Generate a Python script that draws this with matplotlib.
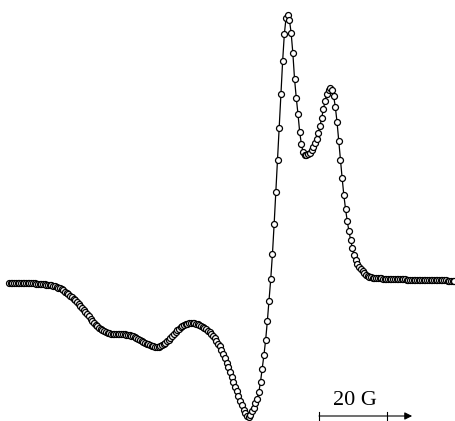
import numpy as np
import matplotlib
matplotlib.use("Agg")
import matplotlib.pyplot as plt

# EPR first-derivative spectrum, one point every 0.5 G (arbitrary intensity units)
signal = [
    0.3, 0.3, 0.3, 0.3, 0.2, 0.2, 0.2, 0.2, 0.1, 0.0,
    0.0, -0.1, -0.2, -0.2, -0.3, -0.4, -0.5, -0.6, -0.8, -1.0,
    -1.2, -1.4, -1.6, -1.8, -2.0, -2.4, -2.8, -3.3, -3.9, -4.6,
    -5.3, -6.3, -7.4, -8.5, -9.6, -11.0, -12.5, -14.0, -15.6, -17.4,
    -19.3, -21.2, -23.0, -25.0, -27.0, -29.0, -31.1, -33.3, -35.5, -37.7,
    -39.7, -41.5, -43.2, -44.6, -45.9, -47.2, -48.3, -49.2, -49.9, -50.4,
    -50.7, -50.9, -51.0, -51.0, -51.0, -51.0, -51.1, -51.2, -51.4, -51.6,
    -51.9, -52.2, -52.7, -53.4, -54.2, -55.1, -56.1, -57.0, -57.8, -58.7,
    -59.6, -60.5, -61.4, -62.1, -62.7, -63.2, -63.6, -63.8, -63.7, -63.3,
    -62.3, -61.0, -59.7, -58.2, -56.6, -54.8, -52.8, -50.9, -49.0, -47.2,
    -45.6, -44.2, -43.0, -42.1, -41.4, -40.8, -40.4, -40.2, -40.2, -40.4,
    -40.8, -41.3, -41.9, -42.7, -43.6, -44.7, -46.0, -47.5, -49.2, -51.0,
    -53.1, -55.4, -57.8, -60.5, -63.4, -66.6, -70.5, -75.0, -79.5, -83.7,
    -88.5, -93.7, -98.9, -104.0, -108.4, -113.0, -117.5, -122.4, -126.8, -130.3,
    -132.8, -133.7, -131.8, -128.3, -124.6, -120.4, -115.5, -109.0, -98.5, -85.5,
    -72.0, -57.0, -38.0, -17.5, 4.0, 29.0, 59.0, 91.0, 123.0, 155.0,
    189.0, 222.0, 249.0, 265.0, 268.5, 263.0, 250.0, 230.0, 204.0, 185.5,
    169.4, 151.5, 139.0, 131.0, 128.4, 127.7, 128.7, 130.5, 133.0, 136.3,
    140.0, 144.5, 150.5, 157.0, 165.5, 174.0, 182.5, 189.5, 193.5, 194.7,
    193.0, 187.0, 176.0, 161.0, 142.0, 123.0, 105.0, 88.0, 74.0, 62.0,
    52.0, 43.0, 35.0, 28.5, 23.5, 19.5, 16.5, 14.0, 11.7, 9.8,
    8.4, 7.3, 6.5, 5.9, 5.4, 5.0, 4.9, 4.8, 4.7, 4.6,
    4.5, 4.4, 4.3, 4.2, 4.1, 4.0, 3.9, 3.9, 3.8, 3.8,
    3.7, 3.7, 3.6, 3.6, 3.5, 3.5, 3.4, 3.4, 3.3, 3.3,
    3.2, 3.2, 3.1, 3.1, 3.0, 3.0, 2.9, 2.9, 2.9, 2.8,
    2.8, 2.8, 2.7, 2.7, 2.7, 2.6, 2.6, 2.6, 2.5, 2.5,
    2.4, 2.4, 2.3,
]
field = np.arange(len(signal)) * 0.5   # gauss

bar_start = 91.2   # scale bar start (G)
bar_len = 20       # G
bar_label = "20 G"

fig = plt.figure(figsize=(4.56, 4.21), dpi=100)
ax = fig.add_axes([0, 0, 1, 1])
ax.axis("off")

ax.plot(field, signal, "-o", color="black", lw=0.9,
        marker="o", ms=4.3, mfc="white", mec="black", mew=0.9)

# scale bar with arrow
y_bar = -133
ax.annotate("", xy=(118.6, y_bar), xytext=(bar_start, y_bar),
            arrowprops=dict(arrowstyle="-|>", color="black", lw=0.8,
                            mutation_scale=11, shrinkA=0, shrinkB=0))
for xb in (bar_start, bar_start + bar_len):
    ax.plot([xb, xb], [y_bar - 4, y_bar + 4], color="black", lw=0.8)
ax.text(bar_start + bar_len / 2 + 0.6, -122, bar_label, ha="center", va="baseline",
        fontsize=16, family="Liberation Serif")

ax.set_xlim(-2.65, 131.5)
ax.set_ylim(-138, 283)

fig.savefig("out.png", dpi=100)
